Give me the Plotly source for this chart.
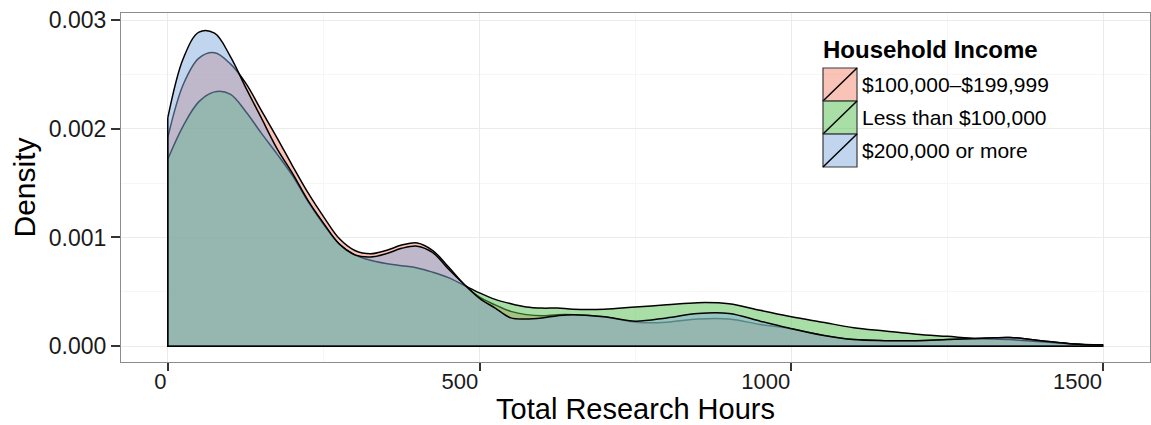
import plotly.graph_objects as go

# Kernel density estimates of total research hours, by household income
hours = [0, 25, 50, 75, 100, 125, 150, 175, 200, 225, 250, 275, 300, 325, 350,
         375, 400, 425, 450, 475, 500, 525, 550, 575, 600, 625, 650, 700, 750,
         800, 850, 900, 950, 1000, 1050, 1100, 1150, 1200, 1250, 1300, 1350,
         1400, 1450, 1500]

density_100k_199k = [0.00192, 0.00241, 0.00265, 0.00270, 0.00260, 0.00242, 0.00217,
                     0.00192, 0.00166, 0.00141, 0.00119, 0.00099, 0.00088, 0.00085,
                     0.00088, 0.00093, 0.00095, 0.00088, 0.00073, 0.00057, 0.00045,
                     0.00038, 0.00032, 0.00029, 0.00028, 0.00029, 0.00029, 0.00027,
                     0.00022, 0.00022, 0.00025, 0.00025, 0.00020, 0.00016, 0.00010,
                     0.00006, 0.00005, 0.00005, 0.00006, 0.00007, 0.00008, 0.00005,
                     0.00002, 0.00001]

density_under_100k = [0.00172, 0.00203, 0.00225, 0.00234, 0.00232, 0.00216, 0.00196,
                      0.00177, 0.00157, 0.00133, 0.00112, 0.00094, 0.00084, 0.00079,
                      0.00076, 0.00074, 0.00072, 0.00068, 0.00063, 0.00056, 0.00049,
                      0.00043, 0.00039, 0.00036, 0.00035, 0.00035, 0.00034, 0.00034,
                      0.00036, 0.00038, 0.00040, 0.00039, 0.00033, 0.00027, 0.00022,
                      0.00017, 0.00014, 0.00011, 0.00009, 0.00007, 0.00006, 0.00004,
                      0.00002, 0.00001]

density_200k_plus = [0.00210, 0.00265, 0.00289, 0.00288, 0.00267, 0.00238, 0.00210,
                     0.00182, 0.00159, 0.00134, 0.00113, 0.00094, 0.00084, 0.00082,
                     0.00085, 0.00090, 0.00092, 0.00086, 0.00071, 0.00057, 0.00044,
                     0.00035, 0.00026, 0.00025, 0.00026, 0.00028, 0.00029, 0.00027,
                     0.00023, 0.00026, 0.00030, 0.00030, 0.00023, 0.00016, 0.00010,
                     0.00006, 0.00005, 0.00005, 0.00006, 0.00007, 0.00008, 0.00005,
                     0.00002, 0.00001]

income_groups = ["$100,000–$199,999", "Less than $100,000", "$200,000 or more"]
group_density = [density_100k_199k, density_under_100k, density_200k_plus]
group_rgb = [(243, 137, 111), (83, 191, 77), (133, 171, 221)]
ALPHA = 0.5

x_ticks = [0, 500, 1000, 1500]
y_ticks = [0.000, 0.001, 0.002, 0.003]
y_tick_text = ["0.000", "0.001", "0.002", "0.003"]

FONT = "Liberation Sans, Arial, Helvetica, sans-serif"

W, H = 1151, 425
PANEL_L, PANEL_R, PANEL_T, PANEL_B = 121, 1150, 13, 362


def rgba(rgb, a):
    return "rgba(%d,%d,%d,%.2f)" % (rgb[0], rgb[1], rgb[2], a)


def paper_x(px):
    return (px - PANEL_L) / (PANEL_R - PANEL_L)


def paper_y(py):
    return (PANEL_B - py) / (PANEL_B - PANEL_T)


fig = go.Figure()

for name, dens, rgb in zip(income_groups, group_density, group_rgb):
    # smoothed density curve filled down to zero
    fig.add_trace(go.Scatter(
        x=hours, y=dens, name=name, mode="lines",
        line=dict(color="black", width=1.5, shape="spline", smoothing=1.0),
        fill="tozeroy", fillcolor=rgba(rgb, ALPHA),
        showlegend=False, hoverinfo="skip",
    ))
    # polygon edge at the left end of the range and along the baseline
    fig.add_trace(go.Scatter(
        x=[hours[0], hours[0], hours[-1]], y=[dens[0], 0, 0], mode="lines",
        line=dict(color="black", width=1.5),
        showlegend=False, hoverinfo="skip",
    ))

# legend drawn inside the panel, with a diagonal stroke in each key
shapes = []
annotations = []
key_l, key_r = 823, 857
key_tops = [68, 101, 134]
key_h = 33
for name, rgb, top in zip(income_groups, group_rgb, key_tops):
    bot = top + key_h
    shapes.append(dict(
        type="rect", xref="paper", yref="paper",
        x0=paper_x(key_l), x1=paper_x(key_r), y0=paper_y(bot), y1=paper_y(top),
        fillcolor=rgba(rgb, ALPHA), line=dict(color="#3a3a3a", width=1.2),
        layer="above",
    ))
    shapes.append(dict(
        type="line", xref="paper", yref="paper",
        x0=paper_x(key_l), y0=paper_y(bot), x1=paper_x(key_r), y1=paper_y(top),
        line=dict(color="black", width=1.5), layer="above",
    ))
    annotations.append(dict(
        xref="paper", yref="paper", x=paper_x(key_r + 3), y=paper_y(top + key_h / 2),
        xanchor="left", yanchor="middle", text=name, showarrow=False,
        font=dict(family=FONT, size=21, color="black"),
    ))

annotations.append(dict(
    xref="paper", yref="paper", x=paper_x(821), y=paper_y(49),
    xanchor="left", yanchor="middle", text="<b>Household Income</b>",
    showarrow=False, font=dict(family=FONT, size=24, color="black"),
))

fig.update_layout(
    width=W, height=H,
    margin=dict(l=PANEL_L, r=W - PANEL_R, t=PANEL_T, b=H - PANEL_B),
    paper_bgcolor="white", plot_bgcolor="white",
    font=dict(family=FONT, color="black"),
    shapes=shapes, annotations=annotations,
)

fig.update_xaxes(
    range=[-75, 1575],
    tickmode="array", tickvals=x_ticks, ticktext=[str(v) for v in x_ticks],
    ticks="outside", ticklen=8, tickwidth=1.5, tickcolor="#333333",
    ticklabelposition="outside left",
    tickfont=dict(family=FONT, size=22, color="#1a1a1a"),
    showline=True, mirror=True, linecolor="#8c8c8c", linewidth=1,
    showgrid=True, gridcolor="#ebebeb", gridwidth=1, zeroline=False,
    minor=dict(tickvals=[250, 750, 1250], showgrid=True, gridcolor="#f6f6f6", ticks=""),
    title=dict(text="Total Research Hours", font=dict(family=FONT, size=29, color="black"),
               standoff=3),
)

fig.update_yaxes(
    range=[-0.000146, 0.003066],
    tickmode="array", tickvals=y_ticks, ticktext=y_tick_text,
    ticks="outside", ticklen=9, tickwidth=1.5, tickcolor="#333333",
    tickfont=dict(family=FONT, size=23, color="#1a1a1a"),
    showline=True, mirror=True, linecolor="#8c8c8c", linewidth=1,
    showgrid=True, gridcolor="#ebebeb", gridwidth=1, zeroline=False,
    minor=dict(tickvals=[0.0005, 0.0015, 0.0025], showgrid=True, gridcolor="#f6f6f6", ticks=""),
    title=dict(text="Density", font=dict(family=FONT, size=30, color="black"), standoff=4),
)

fig.write_html("out.html")
